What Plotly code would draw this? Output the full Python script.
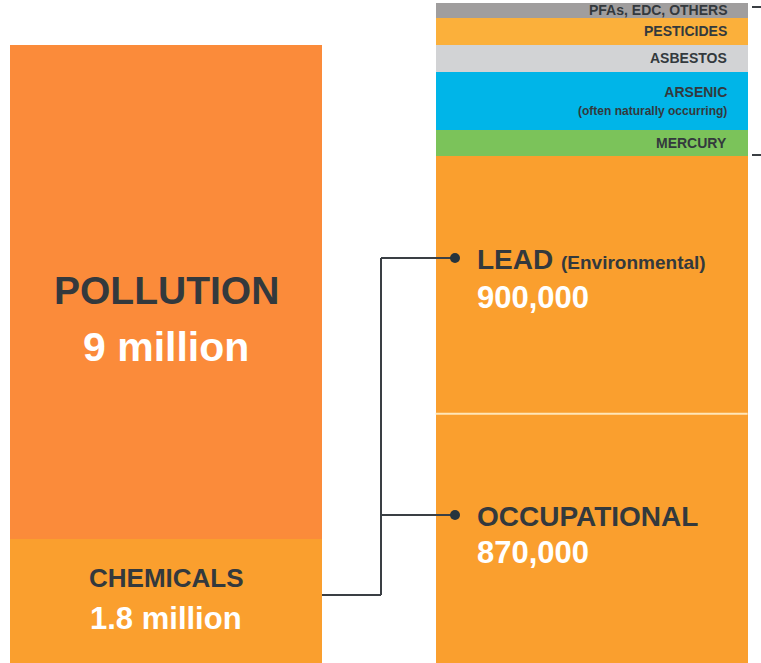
"""Pollution deaths infographic: total pollution vs. chemical breakdown."""
import numpy as np
import plotly.graph_objects as go

W, H = 761, 663

# --- data ----------------------------------------------------------------
# left bar (millions of deaths)
POLLUTION_TOTAL = 9.0
CHEMICALS_TOTAL = 1.8

# right bar: chemical breakdown (thousands of deaths, small ones estimated)
chem_names = ["OCCUPATIONAL", "LEAD", "MERCURY", "ARSENIC",
              "ASBESTOS", "PESTICIDES", "PFAs, EDC, OTHERS"]
chem_values = [870, 900, 91, 203, 94, 94, 52]
chem_colors = ["#FA9F2E", "#FA9F2E", "#7BC35A", "#00B5E8",
               "#D2D3D5", "#FBB03B", "#A09E9E"]
small_labels = {
    "MERCURY": "MERCURY",
    "ARSENIC": "ARSENIC<br><span style='font-size:12px'>(often naturally occurring)</span>",
    "ASBESTOS": "ASBESTOS",
    "PESTICIDES": "PESTICIDES",
    "PFAs, EDC, OTHERS": "PFAs, EDC, OTHERS",
}

POLLUTION_COLOR = "#FB8B3A"
CHEM_COLOR = "#FA9F2E"
DARK = "#33393D"
FONT = "Arial, Liberation Sans, sans-serif"


def px(x):
    return x / W


def py(y):
    return 1 - y / H


BAR_W = 0.733
fig = go.Figure()

# left bar: chemicals at the bottom, rest of pollution stacked on top
fig.add_trace(go.Bar(x=[0], y=[CHEMICALS_TOTAL], width=BAR_W, yaxis="y",
                     marker=dict(color=CHEM_COLOR, line=dict(width=0)),
                     name="Chemicals"))
fig.add_trace(go.Bar(x=[0], y=[POLLUTION_TOTAL - CHEMICALS_TOTAL], width=BAR_W,
                     yaxis="y", marker=dict(color=POLLUTION_COLOR, line=dict(width=0)),
                     name="Pollution"))

# right bar: chemical breakdown
for name, val, col in zip(chem_names, chem_values, chem_colors):
    fig.add_trace(go.Bar(x=[1], y=[val], width=BAR_W, yaxis="y2",
                         marker=dict(color=col, line=dict(width=0)), name=name))

tops = np.cumsum(chem_values)
mids = tops - np.array(chem_values) / 2
chem_sum = tops[-1]

annotations = []
# small right-aligned labels at segment midpoints
for name, mid in zip(chem_names, mids):
    if name in small_labels:
        annotations.append(dict(
            x=px(729), xref="paper", xanchor="right",
            y=mid, yref="y2", yanchor="middle",
            text=f"<b>{small_labels[name]}</b>", showarrow=False, align="right",
            font=dict(family=FONT, size=14, color=DARK),
        ))


def label(x, y, text, size, color, xanchor="center"):
    annotations.append(dict(
        x=px(x), y=py(y), xref="paper", yref="paper",
        xanchor=xanchor, yanchor="middle", text=text, showarrow=False,
        font=dict(family=FONT, size=size, color=color),
    ))


label(166, 290, "<b>POLLUTION</b>", 39, DARK)
label(166, 347, f"<b>{POLLUTION_TOTAL:.0f} million</b>", 41, "white")
label(166, 578, "<b>CHEMICALS</b>", 26, DARK)
label(166, 618, f"<b>{CHEMICALS_TOTAL} million</b>", 31, "white")
label(475, 260, "<b>LEAD</b> <b><span style='font-size:19px'>(Environmental)</span></b>",
      28, DARK, "left")
label(475, 297, f"<b>{chem_values[1] * 1000:,}</b>", 31, "white", "left")
label(475, 516, "<b>OCCUPATIONAL</b>", 28, DARK, "left")
label(475, 552, f"<b>{chem_values[0] * 1000:,}</b>", 31, "white", "left")

line = dict(color="#3A3F44", width=2)
shapes = [
    # separator between occupational and lead
    dict(type="line", xref="x", yref="y2", x0=1 - BAR_W / 2, x1=1 + BAR_W / 2,
         y0=chem_values[0], y1=chem_values[0],
         line=dict(color="#FFE6B8", width=2)),
    # connector from chemicals to lead / occupational
    dict(type="line", xref="paper", yref="paper", x0=px(322), x1=px(381),
         y0=py(595), y1=py(595), line=line),
    dict(type="line", xref="paper", yref="paper", x0=px(381), x1=px(381),
         y0=py(595), y1=py(258), line=line),
    dict(type="line", xref="paper", yref="paper", x0=px(381), x1=px(455),
         y0=py(258), y1=py(258), line=line),
    dict(type="line", xref="paper", yref="paper", x0=px(381), x1=px(455),
         y0=py(515), y1=py(515), line=line),
    # bracket ticks at the far right
    dict(type="line", xref="paper", yref="paper", x0=px(752), x1=px(761),
         y0=py(7), y1=py(7), line=line),
    dict(type="line", xref="paper", yref="paper", x0=px(752), x1=px(761),
         y0=py(155), y1=py(155), line=line),
]
# dots at the connector ends
for yy in (258, 515):
    shapes.append(dict(type="circle", xref="paper", yref="paper",
                       x0=px(450), x1=px(460), y0=py(yy - 5), y1=py(yy + 5),
                       fillcolor="#26343D", line=dict(width=0)))

fig.update_layout(
    width=W, height=H,
    barmode="stack",
    showlegend=False,
    plot_bgcolor="white", paper_bgcolor="white",
    margin=dict(l=0, r=0, t=0, b=0),
    xaxis=dict(range=[-166 / 425.6, (W - 166) / 425.6], visible=False),
    yaxis=dict(range=[0, POLLUTION_TOTAL * H / 618], visible=False),
    yaxis2=dict(range=[0, chem_sum * H / 660], overlaying="y", visible=False),
    annotations=annotations,
    shapes=shapes,
)

# drop the browser's default body margin so the figure fills the window
fig.write_html("out.html", config={"displayModeBar": False},
               post_script="document.body.style.margin = '0';")
